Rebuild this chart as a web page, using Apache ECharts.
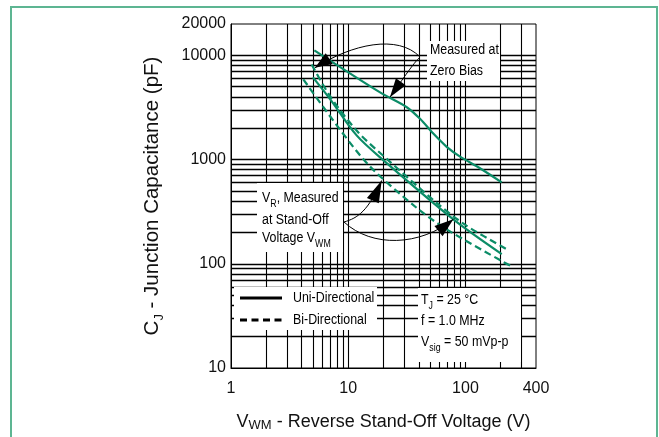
<!DOCTYPE html>
<html><head><meta charset="utf-8">
<script src="https://cdn.jsdelivr.net/npm/echarts@6/dist/echarts.min.js"></script>
<style>html,body{margin:0;padding:0;background:#fff}#c{width:659px;height:437px}</style>
</head><body><div id="c"></div>
<script>
// ---- tick labels & grid values ----
const xTickLabels = [1, 10, 100, 400];
const yTickLabels = [10, 100, 1000, 10000, 20000];
const xGridValues = [2,3,4,5,6,7,8,9,10,20,30,40,50,60,70,80,90,100,200,300];
const yGridValues = [20,30,40,50,60,70,80,90,100,200,300,400,500,600,700,800,900,1000,2000,3000,4000,5000,6000,7000,8000,9000,10000];

// ---- series data (V in volts, C in pF) ----
const zeroBiasUniV = [5.14, 18.7, 31.6, 41, 53.2, 69.2, 90, 133, 204];
const zeroBiasUniC = [11170, 4410, 3180, 2460, 1775, 1325, 1067, 826, 604];
const standOffUniV = [5.0, 7.0, 11.8, 19.9, 78.9, 204];
const standOffUniC = [6150, 3810, 1707, 989, 267, 124];
const standOffBiUpperV = [4.88, 7.0, 12.1, 21.9, 60, 102, 225];
const standOffBiUpperC = [8180, 4060, 1840, 989, 365, 232, 138];
const standOffBiLowerV = [4.14, 8.51, 15.35, 38.4, 69.2, 211, 256];
const standOffBiLowerC = [5890, 1940, 857, 344, 214, 104, 93];

const legendNames = ['Uni-Directional', 'Bi-Directional'];

const green = '#0b8c67';
const labelFont = 'Liberation Sans, Arial, sans-serif';
const axisFont = 'Liberation Sans, Arial, sans-serif';
const pts = (v, c) => v.map((x, i) => [x, c[i]]);

const chart = echarts.init(document.getElementById('c'), null, {renderer: 'canvas'});

const curve = (name, v, c, dashed) => ({
  name, type: 'line', data: pts(v, c), symbol: 'none', smooth: 0.3, z: 10,
  silent: true,
  lineStyle: {color: green, width: 2.2, type: dashed ? [7, 4] : 'solid'},
  itemStyle: {color: green}
});

const option = {
  animation: false,
  backgroundColor: '#fff',
  grid: {left: 231, right: 123, top: 24, bottom: 65, show: true, borderColor: '#000', borderWidth: 1},
  xAxis: {
    type: 'log', logBase: 10, min: 1, max: 400,
    name: 'V{sm|WM} - Reverse Stand-Off Voltage (V)', nameLocation: 'middle', nameGap: 44,
    nameTextStyle: {fontFamily: axisFont, fontSize: 18, color: '#111', lineHeight: 20,
      rich: {sm: {fontFamily: axisFont, fontSize: 13, color: '#111', verticalAlign: 'bottom', lineHeight: 20}}},
    axisLine: {show: true, lineStyle: {color: '#000', width: 1}},
    axisTick: {show: false}, splitLine: {show: false},
    axisLabel: {showMinLabel: true, showMaxLabel: true, margin: 13, fontFamily: axisFont, fontSize: 16, color: '#111',
      formatter: v => xTickLabels.includes(Math.round(v)) ? String(Math.round(v)) : ''}
  },
  yAxis: {
    type: 'log', logBase: 10, min: 10, max: 20000,
    name: 'C{sub|J} - Junction Capacitance (pF)', nameLocation: 'middle', nameGap: 65,
    nameTextStyle: {fontFamily: axisFont, fontSize: 20.5, color: '#111', lineHeight: 22,
      rich: {sub: {fontFamily: axisFont, fontSize: 13, color: '#111', verticalAlign: 'bottom', lineHeight: 28}}},
    axisLine: {show: true, lineStyle: {color: '#000', width: 1}},
    axisTick: {show: false}, splitLine: {show: false},
    axisLabel: {showMinLabel: true, showMaxLabel: true, margin: 5, fontFamily: axisFont, fontSize: 16, color: '#111',
      formatter: v => yTickLabels.includes(Math.round(v)) ? String(Math.round(v)) : ''}
  },
  series: [
    {
      name: 'grid', type: 'line', data: [], z: 1, silent: true,
      markLine: {
        z: 1, silent: true, symbol: ['none', 'none'], label: {show: false}, animation: false,
        lineStyle: {type: 'solid', color: '#000', width: 1}, emphasis: {disabled: true},
        data: xGridValues.map(v => ({xAxis: v, lineStyle: {width: 1.1, color: '#000', type: 'solid'}}))
          .concat(yGridValues.map(v => ({yAxis: v, lineStyle: {width: 1.4, color: '#000', type: 'solid'}})))
      }
    },
    curve(legendNames[0], zeroBiasUniV, zeroBiasUniC, false),
    curve(legendNames[0], standOffUniV, standOffUniC, false),
    curve(legendNames[1], standOffBiUpperV, standOffBiUpperC, true),
    curve(legendNames[1], standOffBiLowerV, standOffBiLowerC, true)
  ]
};
chart.setOption(option);

// ---- annotations ----
const P = (v, c) => chart.convertToPixel({gridIndex: 0}, [v, c]);
function head(tip, from, len, half) {
  const dx = tip[0] - from[0], dy = tip[1] - from[1], d = Math.hypot(dx, dy);
  const ux = dx / d, uy = dy / d, bx = tip[0] - ux * len, by = tip[1] - uy * len;
  return {type: 'polygon', z: 62, silent: true,
    shape: {points: [[tip[0], tip[1]], [bx - uy * half, by + ux * half], [bx + uy * half, by - ux * half]]},
    style: {fill: '#000'}};
}
function bez(p1, c1, c2, p2) {
  return {type: 'bezierCurve', z: 61, silent: true,
    shape: {x1: p1[0], y1: p1[1], cpx1: c1[0], cpy1: c1[1], cpx2: c2[0], cpy2: c2[1], x2: p2[0], y2: p2[1]},
    style: {stroke: '#000', lineWidth: 1, fill: null}};
}
function box(x, y, w, h) {
  return {type: 'rect', z: 55, silent: true, shape: {x, y, width: w, height: h}, style: {fill: '#fff'}};
}
function txt(x, y, text) {
  return {type: 'text', z: 60, silent: true, x, y, scaleX: 0.8,
    style: {text, fontFamily: labelFont, fontSize: 15.5, fill: '#000', align: 'left', verticalAlign: 'middle', lineHeight: 18,
      rich: {sub: {fontFamily: labelFont, fontSize: 11, fill: '#000', verticalAlign: 'bottom', lineHeight: 23}}}};
}
function legendLine(x1, x2, y, dashed) {
  return {type: 'line', z: 60, silent: true, shape: {x1, y1: y, x2, y2: y},
    style: {stroke: '#000', lineWidth: 3, lineDash: dashed ? [7, 4.5] : null}};
}

const tipA = P(5.2, 7600), tipB = P(22.7, 3960), tipC = P(19.3, 630), tipD = P(78.9, 267);
const graphics = [
  {type: 'rect', z: 100, silent: true, shape: {x: 11, y: 7, width: 646, height: 460},
    style: {fill: null, stroke: '#5db592', lineWidth: 2}},
  box(427, 41, 73, 40), txt(430, 50, 'Measured at'), txt(430, 71, 'Zero Bias'),
  box(257, 183, 86, 69), txt(262, 198, 'V{sub|R}, Measured'), txt(262, 220, 'at Stand-Off'), txt(262, 238, 'Voltage V{sub|WM}'),
  box(418, 288, 103, 74), txt(421, 300, 'T{sub|J} = 25 °C'), txt(421, 321, 'f = 1.0 MHz'), txt(421, 342, 'V{sub|sig} = 50 mVp-p'),
  box(234, 287, 143, 43),
  legendLine(240, 282, 298, false), txt(293, 298, legendNames[0]),
  legendLine(240, 282, 320, true), txt(293, 320, legendNames[1]),
  bez([420, 57], [398, 34], [352, 44], tipA), head(tipA, [352, 44], 17, 6.5),
  bez([420, 57], [414, 63], [409, 70], tipB), head(tipB, [409, 70], 19, 6),
  bez([344, 222], [358, 218], [368, 211], tipC), head(tipC, [371.7, 203.3], 22, 6.5),
  bez([344, 222], [372, 248], [420, 246], tipD), head(tipD, [420, 246], 19, 6.5)
];
chart.setOption({graphic: {elements: graphics}});
</script>
</body></html>
